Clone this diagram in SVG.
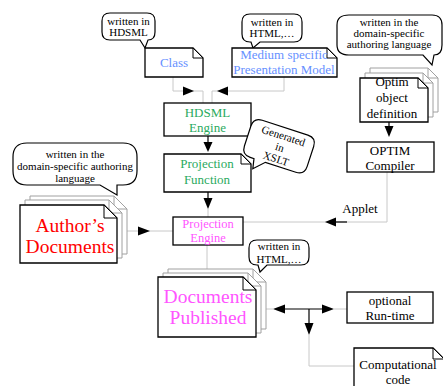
<svg xmlns="http://www.w3.org/2000/svg" width="443" height="386" viewBox="0 0 443 386">
<style>
text{font-family:"Liberation Serif","Times New Roman",serif;text-anchor:middle}
.bt{font-size:11px;fill:#000}
.t13{font-size:13px}
.blue{fill:#6690FF}
.green{fill:#2AAA5E}
.mag{fill:#FF55FF}
.red{fill:#FF0000}
.blk{fill:#000}
.box{fill:#fff;stroke:#000;stroke-width:1.3}
.back{fill:#fff;stroke:#A0A0A0;stroke-width:1}
.fold{fill:#fff;stroke:#000;stroke-width:1}
.foldb{fill:#fff;stroke:#A0A0A0;stroke-width:1}
.bub{fill:#fff;stroke:#000;stroke-width:1.2}
.con{fill:none;stroke:#C8C8C8;stroke-width:1}
.blkline{fill:none;stroke:#000;stroke-width:1.2}
.ah{fill:#000}
</style>
<rect width="443" height="386" fill="#fff"/>

<g id="connectors">
  <path class="con" d="M173,77 V91 H203 V103"/>
  <polygon class="ah" points="194,91 183,86.5 183,95.5"/>
  <path class="con" d="M284,77 V91 H212 V103"/>
  <polygon class="ah" points="217,91 228,86.5 228,95.5"/>
  <path class="blkline" d="M208,136 V142"/>
  <polygon class="ah" points="208,152 203.5,142 212.5,142"/>
  <path class="blkline" d="M208,192 V198"/>
  <polygon class="ah" points="208,209 203.5,198 212.5,198"/>
  <path class="con" d="M208,209 V217"/>
  <path class="blkline" d="M389,122 V127"/>
  <polygon class="ah" points="389,137 384.5,126 393.5,126"/>
  <path class="con" d="M387,172 V222 H243"/>
  <path class="blkline" d="M336,222 H347"/>
  <polygon class="ah" points="325,222 336,217.5 336,226.5"/>
  <text class="t13 blk" x="360" y="213">Applet</text>
  <path class="con" d="M127,231 H173"/>
  <polygon class="ah" points="150,231 138,226.5 138,235.5"/>
  <path class="con" d="M207,245 V269"/>
  <path class="con" d="M266,309 H273"/>
  <path class="blkline" d="M285,309 H322"/>
  <polygon class="ah" points="273,309 285,304.5 285,313.5"/>
  <polygon class="ah" points="334,309 322,304.5 322,313.5"/>
  <path class="con" d="M334,309 H347"/>
  <path class="blkline" d="M309,309 V323"/>
  <polygon class="ah" points="309,335 304.5,323 313.5,323"/>
  <path class="con" d="M309,335 V366 H354"/>
</g>

<g id="bubble-hdsml">
  <path class="bub" d="M110,13 H147 Q155,13 155,21 V32 Q155,40 148,40 L145,48 L140,40 H110 Q102,40 102,32 V21 Q102,13 110,13 Z"/>
  <text class="bt" x="128.5" y="25">written in</text>
  <text class="bt" x="128.5" y="36">HDSML</text>
</g>

<g id="class">
  <path class="box" d="M145,48 H193 L203,58 V77 H145 Z"/>
  <path class="fold" d="M193,48 V58 H203 Z"/>
  <text class="t13 blue" x="174" y="67">Class</text>
</g>

<g id="bubble-html-top">
  <path class="bub" d="M250,14 H294 Q302,14 302,22 V34 Q302,42 294,42 H260 L253,48 L251,42 H250 Q242,42 242,34 V22 Q242,14 250,14 Z"/>
  <text class="bt" x="272" y="26">written in</text>
  <text class="bt" x="272" y="37">HTML,…</text>
</g>

<g id="medium">
  <path class="box" d="M232,48 H327 L337,58 V77 H232 Z"/>
  <path class="fold" d="M327,48 V58 H337 Z"/>
  <text class="t13 blue" x="284" y="59">Medium specific</text>
  <text class="t13 blue" x="284" y="74">Presentation Model</text>
</g>

<g id="bubble-optim">
  <path class="bub" d="M349,15 H432 Q442,15 442,25 V45 Q442,55 434,55 L432,65 L423,55 H349 Q337,55 337,45 V25 Q337,15 349,15 Z"/>
  <text class="bt" x="389" y="26">written in the</text>
  <text class="bt" x="389" y="37">domain-specific</text>
  <text class="bt" x="389" y="48">authoring language</text>
</g>

<g id="optim-def">
  <path class="back" d="M370,68 H428 L438,78 V112 H370 Z"/>
  <path class="foldb" d="M428,68 V78 H438 Z"/>
  <path class="back" d="M365,73 H423 L433,83 V117 H365 Z"/>
  <path class="foldb" d="M423,73 V83 H433 Z"/>
  <path class="box" d="M360,78 H418 L428,88 V122 H360 Z"/>
  <path class="fold" d="M418,78 V88 H428 Z"/>
  <text class="t13 blk" x="392" y="86">Optim</text>
  <text class="t13 blk" x="392" y="102">object</text>
  <text class="t13 blk" x="392" y="118">definition</text>
</g>

<g id="optim-compiler">
  <rect class="box" x="347" y="142" width="87" height="30"/>
  <text class="t13 blk" x="390" y="155">OPTIM</text>
  <text class="t13 blk" x="390" y="170">Compiler</text>
</g>

<g id="hdsml-engine">
  <rect class="box" x="164" y="103" width="87" height="33"/>
  <text class="t13 green" x="207.5" y="117">HDSML</text>
  <text class="t13 green" x="207.5" y="132">Engine</text>
</g>

<g id="bubble-xslt" transform="rotate(18 283 147)">
  <path class="bub" d="M255,128 H303 Q312,128 312,137 V158 Q312,167 303,167 H271 L261,177 L259,167 H255 Q246,167 246,158 V137 Q246,128 255,128 Z"/>
  <text class="bt" x="280" y="140">Generated</text>
  <text class="bt" x="280" y="152">in</text>
  <text class="bt" x="280" y="164">XSLT</text>
</g>

<g id="projection-function">
  <path class="box" d="M164,154 H241 L251,164 V192 H164 Z"/>
  <path class="fold" d="M241,154 V164 H251 Z"/>
  <text class="t13 green" x="207" y="168">Projection</text>
  <text class="t13 green" x="207" y="184">Function</text>
</g>

<g id="projection-engine">
  <rect class="box" x="173" y="217" width="70" height="28"/>
  <text class="mag" style="font-size:12.5px" x="208" y="228">Projection</text>
  <text class="mag" style="font-size:12.5px" x="208" y="242">Engine</text>
</g>

<g id="bubble-authors">
  <path class="bub" d="M27,143 H123 Q137,143 137,157 V171 Q137,185 123,185 H117 L117,195 L100,185 H27 Q13,185 13,171 V157 Q13,143 27,143 Z"/>
  <text class="bt" x="75" y="158">written in the</text>
  <text class="bt" x="75" y="170">domain-specific authoring</text>
  <text class="bt" x="75" y="182">language</text>
</g>

<g id="authors-documents">
  <path class="back" d="M30,196 H114 L127,209 V254 H30 Z"/>
  <path class="foldb" d="M114,196 V209 H127 Z"/>
  <path class="back" d="M25,200 H109 L122,213 V258 H25 Z"/>
  <path class="foldb" d="M109,200 V213 H122 Z"/>
  <path class="box" d="M20,205 H104 L117,218 V263 H20 Z"/>
  <path class="fold" d="M104,205 V218 H117 Z"/>
  <text class="red" style="font-size:19.5px" x="70" y="232">Author’s</text>
  <text class="red" style="font-size:19.5px" x="70" y="253">Documents</text>
</g>

<g id="bubble-html-bottom">
  <path class="bub" d="M257,240 H301 Q309,240 309,248 V257 Q309,265 301,265 H267 L260,272 L258,265 H257 Q249,265 249,257 V248 Q249,240 257,240 Z"/>
  <text class="bt" x="279" y="250">written in</text>
  <text class="bt" x="279" y="263">HTML,…</text>
</g>

<g id="documents-published">
  <path class="back" d="M168,269 H253 L266,282 V329 H168 Z"/>
  <path class="foldb" d="M253,269 V282 H266 Z"/>
  <path class="back" d="M163,273 H248 L261,286 V333 H163 Z"/>
  <path class="foldb" d="M248,273 V286 H261 Z"/>
  <path class="box" d="M158,277 H243 L256,290 V337 H158 Z"/>
  <path class="fold" d="M243,277 V290 H256 Z"/>
  <text class="mag" style="font-size:19.5px" x="208" y="303">Documents</text>
  <text class="mag" style="font-size:19.5px" x="208" y="324">Published</text>
</g>

<g id="runtime">
  <rect class="box" x="347" y="292" width="86" height="31"/>
  <text class="t13 blk" x="390" y="305">optional</text>
  <text class="t13 blk" x="390" y="320">Run-time</text>
</g>

<g id="computational-code">
  <path class="box" d="M354,348 H433 L444,359 V392 H354 Z"/>
  <path class="fold" d="M433,348 V359 H444 Z"/>
  <text class="t13 blk" x="398" y="369">Computational</text>
  <text class="t13 blk" x="398" y="384">code</text>
</g>
</svg>
